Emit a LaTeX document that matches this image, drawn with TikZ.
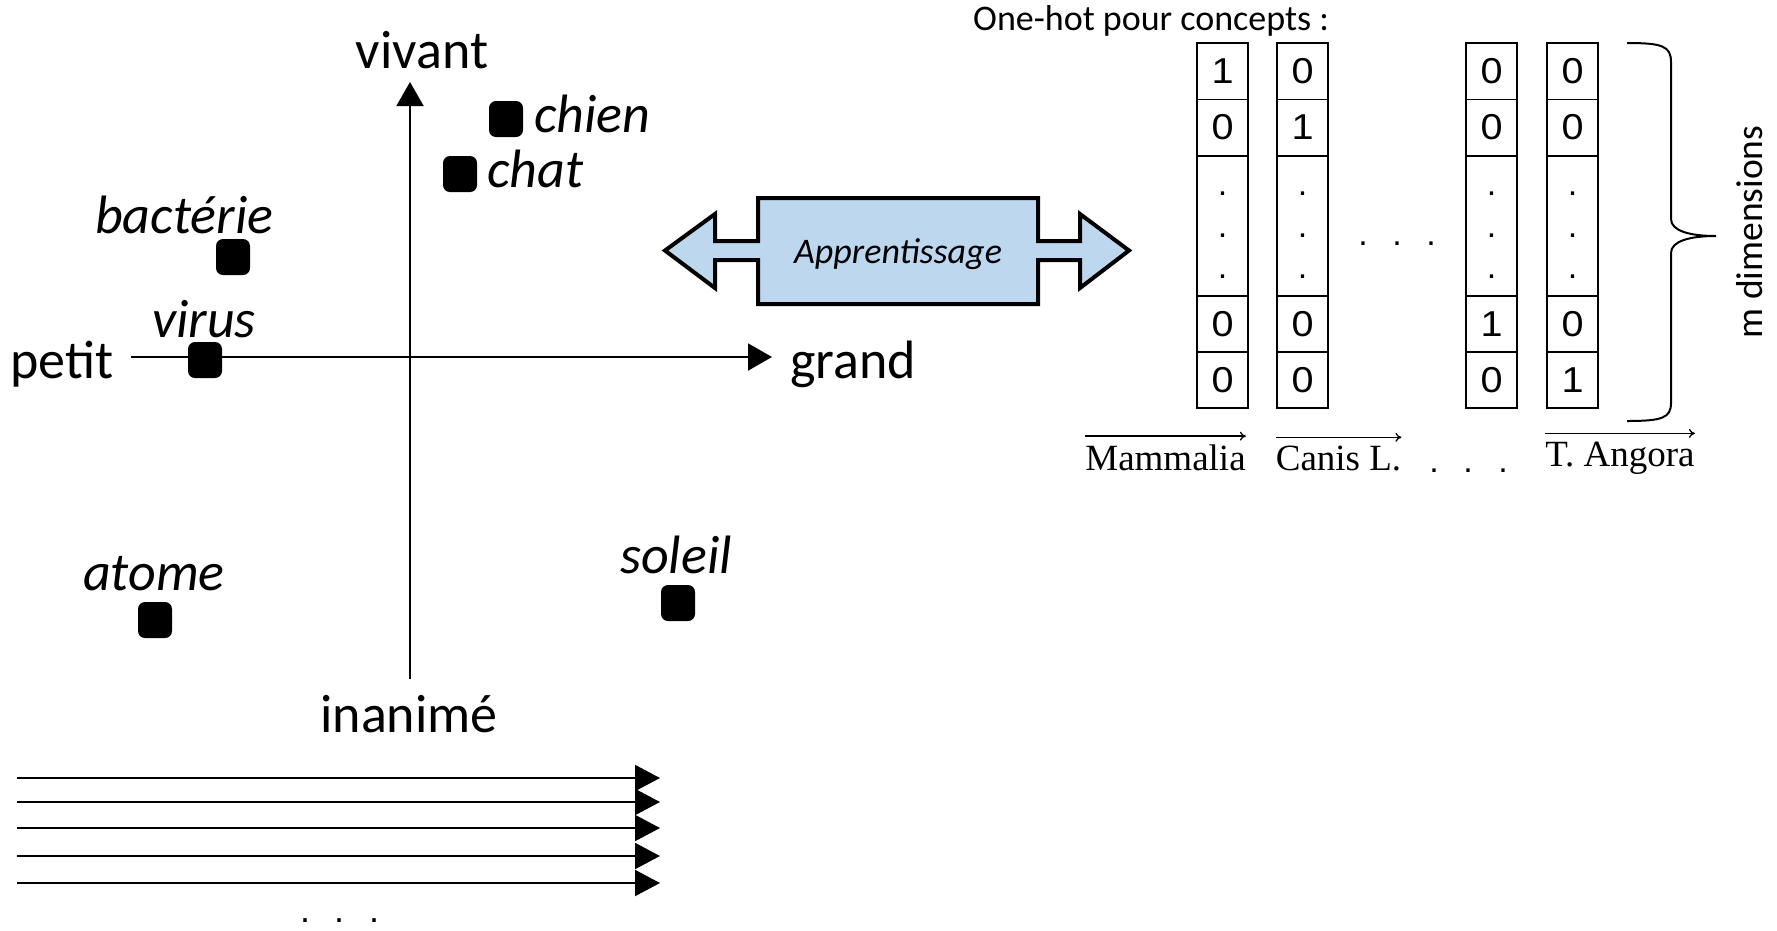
\documentclass[tikz,border=0pt]{standalone}
\usepackage{fontspec}
\setmainfont{Carlito}
\newfontfamily\cellfont{Liberation Sans}
\newfontfamily\seriffont{Liberation Serif}
\usetikzlibrary{arrows.meta}
\definecolor{learnblue}{HTML}{BDD7EE}
\newcommand\cellnum[1]{\scalebox{1.1}[1]{#1}}

\begin{document}
\begin{tikzpicture}[x=1pt,y=-1pt,
  axis/.style={line width=2pt,-{Triangle[length=24pt,width=27pt]}},
  ray/.style={line width=2pt,-{Triangle[length=25pt,width=26pt]}},
  axislabel/.style={font=\fontsize{54}{60}\selectfont,inner sep=0pt,anchor=base},
  word/.style={font=\fontsize{54}{60}\selectfont\itshape,inner sep=0pt,anchor=base west},
  blob/.style={fill=black,rounded corners=7pt,minimum width=34pt,minimum height=36pt,inner sep=0pt},
  cell/.style={draw,line width=1.6pt,minimum width=50.5pt,inner sep=0pt,font=\fontsize{36}{40}\cellfont},
  dotc/.style={inner sep=0pt,font=\fontsize{34}{40}\cellfont},
  vlabel/.style={inner sep=0pt,anchor=base,font=\fontsize{37}{40}\seriffont},
  overarrow/.style={line width=1.3pt,-{To[length=6pt,width=9pt]}}
]
\useasboundingbox (0,0) rectangle (1777,930);

% --- semantic plane ---------------------------------------------------
\coordinate (ybot) at (410,679);
\coordinate (ytop) at (410,82);
\coordinate (xleft) at (131,357);
\coordinate (xright) at (772,357);
\draw[axis] (ybot) -- (ytop);
\draw[axis] (xleft) -- (xright);

\node[axislabel] (vivant) at (422,68) {vivant};
\node[axislabel,anchor=base west] (petit) at (10,378) {petit};
\node[axislabel,anchor=base west] (grand) at (790,378) {grand};
\node[axislabel] (inanime) at (409,732) {inanimé};

\node[blob] (pchien) at (506,119) {};
\node[blob] (pchat) at (460,174) {};
\node[blob] (pbact) at (233,257) {};
\node[blob] (pvirus) at (205,360) {};
\node[blob] (patome) at (155,620) {};
\node[blob] (psoleil) at (678,603) {};

\node[word] (lchien) at (534,132) {chien};
\node[word] (lchat) at (487,187) {chat};
\node[word] (lbact) at (95,233) {bactérie};
\node[word] (lvirus) at (152,337) {virus};
\node[word] (latome) at (83,590) {atome};
\node[word] (lsoleil) at (620,573) {soleil};

% --- bundle of directions ---------------------------------------------
\foreach \yy [count=\k] in {778,802,828,856,883} {
  \coordinate (rs\k) at (17,\yy);
  \coordinate (re\k) at (660,\yy);
  \draw[ray] (rs\k) -- (re\k);
}
\foreach \xx [count=\k] in {305,339,374} {
  \node[dotc,font=\fontsize{36}{40}\cellfont] (bd\k) at (\xx,921) {.};
}

% --- learning double arrow --------------------------------------------
\draw[line width=4pt,fill=learnblue,line join=miter]
  (665,250.5) -- (715,214) -- (715,241) -- (758,241) -- (758,198)
  -- (1038,198) -- (1038,241) -- (1080,241) -- (1080,214) -- (1129,250.5)
  -- (1080,288) -- (1080,260) -- (1038,260) -- (1038,304) -- (758,304)
  -- (758,260) -- (715,260) -- (715,288) -- cycle;
\node[inner sep=0pt,anchor=base,font=\fontsize{36}{40}\selectfont\itshape] (learn) at (898,263) {Apprentissage};

% --- one-hot vectors --------------------------------------------------
\node[inner sep=0pt,anchor=base west,font=\fontsize{36}{40}\selectfont] (title) at (973,30) {One-hot pour concepts :};

\foreach \cx/\a/\b/\d/\e [count=\i] in {1222.5/1/0/0/0, 1302.5/0/1/0/0, 1491.5/0/0/1/0, 1572.5/0/0/0/1} {
  \node[cell,minimum height=56.3pt] (c\i-1) at (\cx,71.2) {\cellnum{\a}};
  \node[cell,minimum height=56.3pt] (c\i-2) at (\cx,127.5) {\cellnum{\b}};
  \node[cell,minimum height=140pt] (c\i-3) at (\cx,225.7) {};
  \node[cell,minimum height=56.3pt] (c\i-4) at (\cx,323.8) {\cellnum{\d}};
  \node[cell,minimum height=56.3pt] (c\i-5) at (\cx,380.1) {\cellnum{\e}};
  \node[dotc] (c\i-d1) at (\cx,194) {.};
  \node[dotc] (c\i-d2) at (\cx,236) {.};
  \node[dotc] (c\i-d3) at (\cx,277) {.};
}
\foreach \xx [count=\k] in {1363,1397,1431} {
  \node[dotc] (md\k) at (\xx,244) {.};
}

% brace over the m rows
\draw[line width=2pt]
  (1627,43) .. controls (1662,43) and (1671,46) .. (1671,62)
  -- (1671,219) .. controls (1671,231) and (1690,236) .. (1716,236)
  .. controls (1690,236) and (1671,241) .. (1671,253)
  -- (1671,403) .. controls (1671,418) and (1662,421) .. (1627,421);
\node[inner sep=0pt,rotate=90,font=\fontsize{37.5}{40}\selectfont] (mdim) at (1750,232) {m dimensions};

% concept names, each with a vector arrow above
\node[vlabel] (mamm) at (1165.5,470) {Mammalia};
\node[vlabel] (canis) at (1338.5,470) {Canis L.};
\node[vlabel] (angora) at (1620,466) {T. Angora};
\foreach \nm in {mamm,canis,angora} {
  \draw[overarrow] ([yshift=8pt]\nm.north west) -- ([yshift=8pt]\nm.north east);
}
\foreach \xx [count=\k] in {1434,1468,1503} {
  \node[dotc] (ld\k) at (\xx,471) {.};
}
\end{tikzpicture}
\end{document}
